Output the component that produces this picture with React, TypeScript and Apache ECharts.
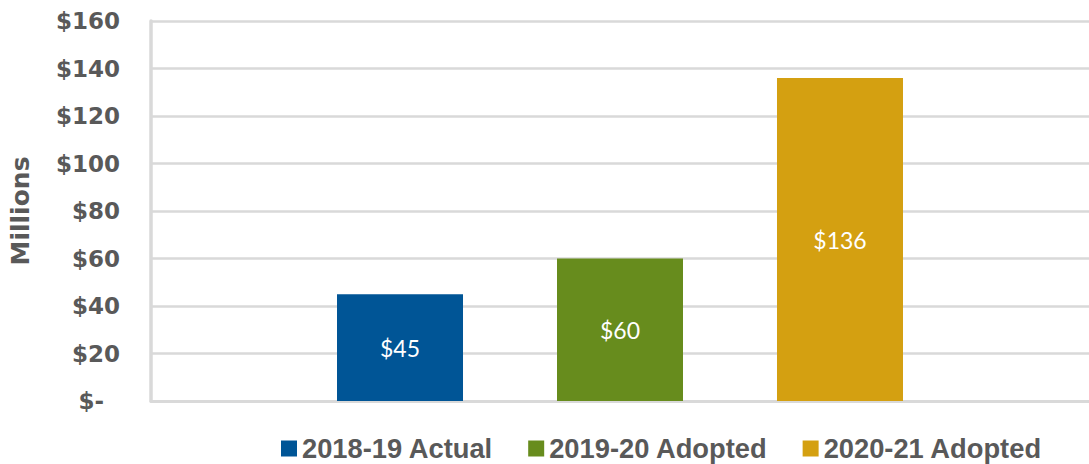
import React, { useEffect, useRef } from "react";
import * as echarts from "echarts";

const categories = ["FY"];
const seriesNames = ["2018-19 Actual", "2019-20 Adopted", "2020-21 Adopted"];
const seriesValues = [45, 60, 136];
const seriesColors = ["#005596", "#678c1d", "#d4a011"];
const yTicks = [0, 20, 40, 60, 80, 100, 120, 140, 160];

export default function App() {
  const ref = useRef<HTMLDivElement>(null);
  useEffect(() => {
    if (!ref.current) return;
    const chart = echarts.init(ref.current, undefined, { renderer: "svg" });
    const axisFont = "'DejaVu Sans', sans-serif";
    const legendFont = "'Liberation Sans', Arial, sans-serif";
    const labelFont = "Lato, 'Noto Sans', sans-serif";
    const labelStyle = { fontFamily: axisFont, fontWeight: "bold", fontSize: 23, color: "#595959" };
    chart.setOption({
      animation: false,
      grid: { left: 151, width: 945, top: 21, bottom: 63, containLabel: false },
      legend: {
        top: 435,
        left: 281,
        padding: 0,
        itemWidth: 16,
        itemHeight: 16,
        itemGap: 35,
        icon: "rect",
        textStyle: { fontFamily: legendFont, fontWeight: "bold", fontSize: 27.3, lineHeight: 27, color: "#595959" },
        data: seriesNames,
      },
      xAxis: {
        type: "category",
        data: categories,
        axisLine: { show: true, lineStyle: { color: "#d9d9d9", width: 3 } },
        axisTick: { show: false },
        axisLabel: { show: false },
      },
      yAxis: {
        type: "value",
        min: yTicks[0],
        max: yTicks[yTicks.length - 1],
        interval: 20,
        name: "Millions",
        nameLocation: "middle",
        nameGap: 118,
        nameRotate: 90,
        nameTextStyle: { fontFamily: axisFont, fontWeight: "bold", fontSize: 25, color: "#595959" },
        axisLine: { show: true, lineStyle: { color: "#d9d9d9", width: 3.5 } },
        axisTick: { show: false },
        splitLine: { show: true, lineStyle: { color: "#d9d9d9", width: 2.5 } },
        axisLabel: {
          margin: 31,
          ...labelStyle,
          formatter: (v: number) => (v === 0 ? "{z|$-}" : "$" + v),
          rich: { z: { ...labelStyle, padding: [0, 16, 0, 0] } },
        },
      },
      series: seriesNames.map((name, i) => ({
        name,
        type: "bar",
        barWidth: 126,
        barGap: "74.6%",
        itemStyle: { color: seriesColors[i] },
        label: {
          show: true,
          position: "inside",
          color: "#ffffff",
          fontFamily: labelFont,
          fontSize: 23,
          formatter: (p: any) => "$" + p.value,
        },
        data: [seriesValues[i]],
      })),
    });
    return () => chart.dispose();
  }, []);
  return <div ref={ref} style={{ width: 1089, height: 464, position: "absolute", left: 0, top: 0 }} />;
}
